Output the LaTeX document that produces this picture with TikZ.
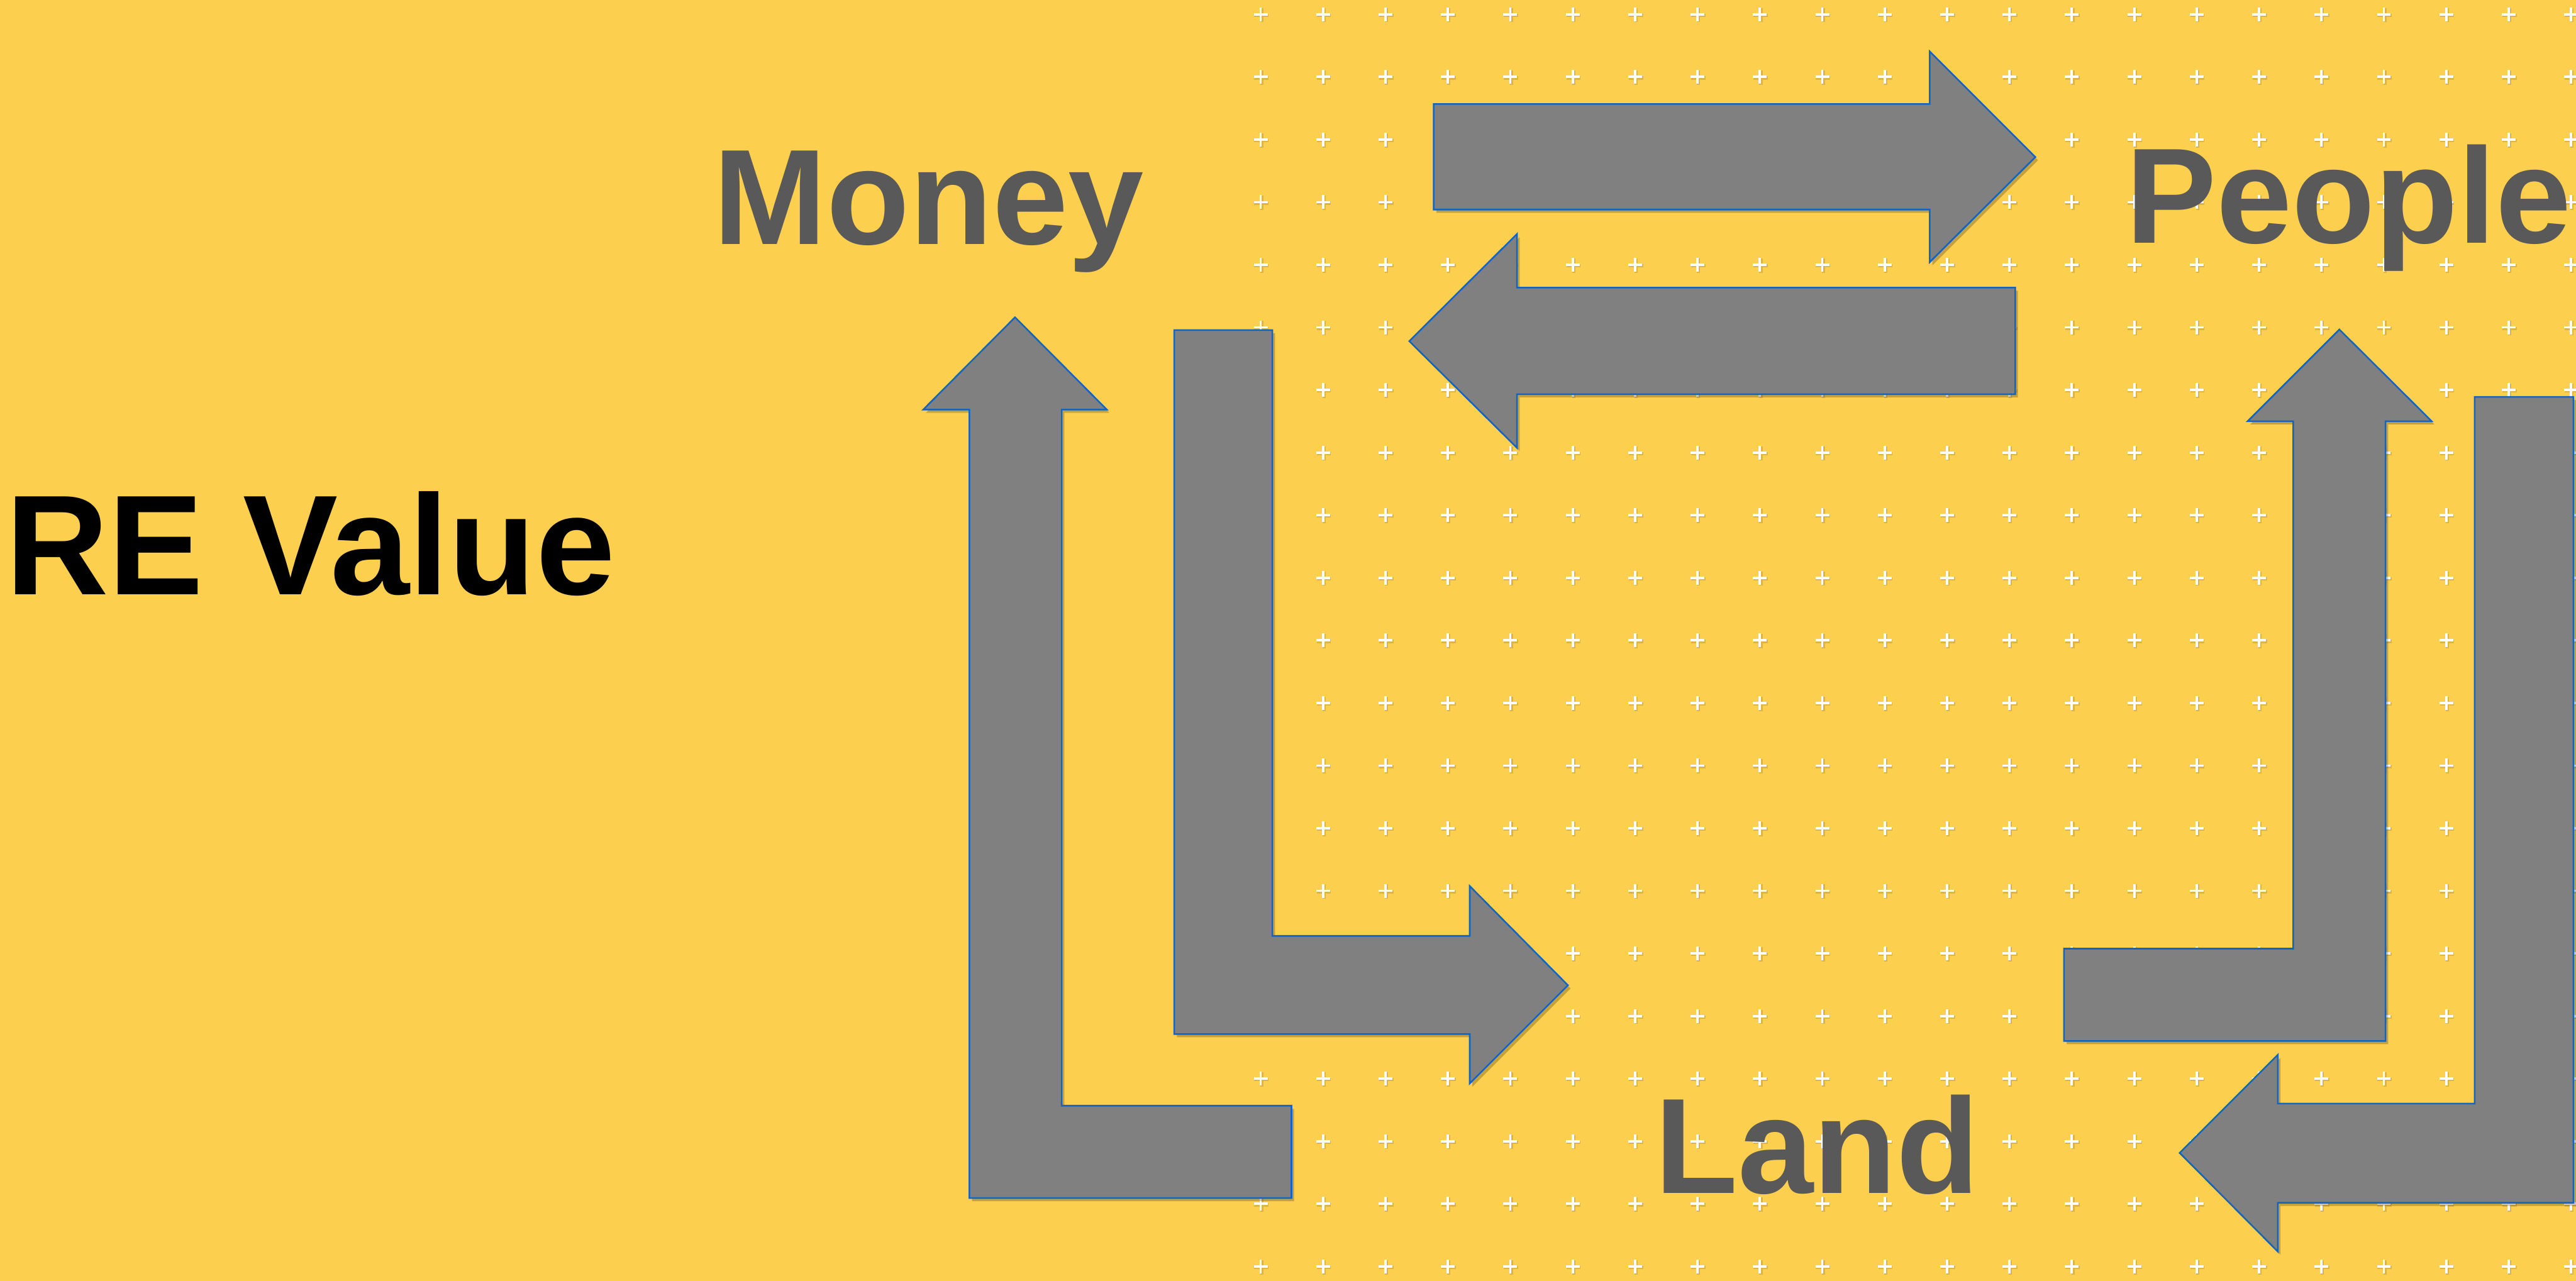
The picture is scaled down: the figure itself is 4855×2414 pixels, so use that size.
\documentclass[tikz,border=0pt]{standalone}
\usepackage{fontspec}
\setmainfont{Liberation Sans}
\definecolor{bgyellow}{RGB}{252,207,79}
\definecolor{arrowgray}{RGB}{128,128,128}
\definecolor{edgeblue}{RGB}{16,100,196}
\definecolor{textgray}{RGB}{89,89,89}
\newcommand\mybarrow[1]{%
  \fill[arrowshadow,shift={(5,6)}] #1;
  \draw[blockarrow] #1;}
\begin{document}
\begin{tikzpicture}[x=0.01cm,y=-0.01cm,
  blockarrow/.style={fill=arrowgray, draw=edgeblue, line width=0.03cm, line join=miter},
  arrowshadow/.style={fill=black, fill opacity=0.22, draw=none},
  plusmark/.style={draw=white, line width=0.045cm},
  plusshadow/.style={draw=black, draw opacity=0.12, line width=0.06cm},
  wordlabel/.style={font=\bfseries\fontsize{72.8}{80}\selectfont, text=textgray, inner sep=0pt, anchor=base}]
\fill[bgyellow] (0,0) rectangle (4855,2414);
\useasboundingbox (0,0) rectangle (4855,2414);
% grid of plus marks
\foreach \i in {0,...,21} {
  \foreach \j in {0,...,20} {
    \pgfmathsetmacro\px{2376+117.6*\i}
    \pgfmathsetmacro\py{27+118*\j}
    \draw[plusshadow] (\px-12,\py+2) -- (\px+15,\py+2) (\px+2,\py-12) -- (\px+2,\py+15);
    \draw[plusmark] (\px-13,\py) -- (\px+13,\py) (\px,\py-13) -- (\px,\py+13);
  }
}
% block arrows
\mybarrow{(2702,196) -- (3637,196) -- (3637,97) -- (3836,296) -- (3637,494) -- (3637,395) -- (2702,395) -- cycle}
\mybarrow{(3798,542) -- (2859,542) -- (2859,441) -- (2656,643) -- (2859,844) -- (2859,743) -- (3798,743) -- cycle}
\mybarrow{(2434,2084) -- (2001,2084) -- (2001,772) -- (2086,772) -- (1913,598) -- (1740,772) -- (1827,772) -- (1827,2258) -- (2434,2258) -- cycle}
\mybarrow{(2213,622) -- (2398,622) -- (2398,1764) -- (2770,1764) -- (2770,1670) -- (2955,1857) -- (2770,2042) -- (2770,1949) -- (2213,1949) -- cycle}
\mybarrow{(3890,1788) -- (4322,1788) -- (4322,794) -- (4236,794) -- (4409,621) -- (4583,794) -- (4496,794) -- (4496,1962) -- (3890,1962) -- cycle}
\mybarrow{(4664,748) -- (4850,748) -- (4850,2267) -- (4293,2267) -- (4293,2359) -- (4108,2173) -- (4293,1988) -- (4293,2080) -- (4664,2080) -- cycle}
% texts
\node[wordlabel] (money) at (1750,460) {Money};
\node[wordlabel] (people) at (4426,458) {People};
\node[wordlabel] (land) at (3425,2249) {Land};
\node[wordlabel, text=black, font=\bfseries\fontsize{76.3}{84}\selectfont] (revalue) at (585,1121) {RE Value};
\end{tikzpicture}
\end{document}
